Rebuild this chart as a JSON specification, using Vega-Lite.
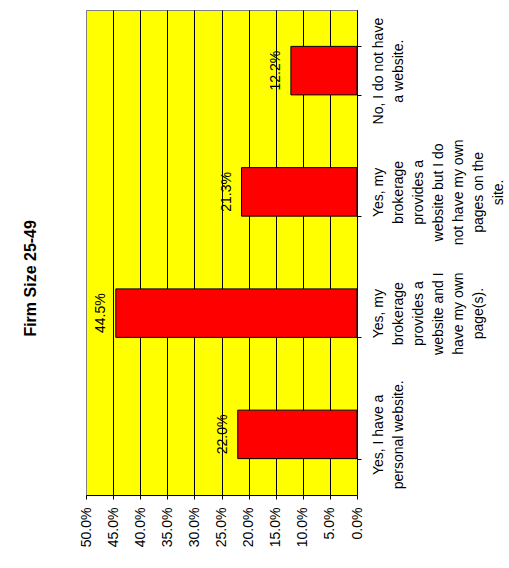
{
  "$schema": "https://vega.github.io/schema/vega-lite/v6.json",
  "width": 271,
  "height": 485,
  "autosize": {"type": "none"},
  "padding": {"left": 86, "top": 10, "right": 152, "bottom": 73},
  "background": "white",
  "title": {
    "text": "Firm Size 25-49",
    "orient": "left",
    "anchor": "middle",
    "frame": "bounds",
    "font": "Liberation Sans",
    "fontSize": 16,
    "fontWeight": "bold",
    "color": "black",
    "offset": 40
  },
  "data": {
    "values": [
      {"response": "Yes, I have a\npersonal website.", "share": 0.22},
      {"response": "Yes, my\nbrokerage\nprovides a\nwebsite and I\nhave my own\npage(s).", "share": 0.445},
      {"response": "Yes, my\nbrokerage\nprovides a\nwebsite but I do\nnot have my own\npages on the\nsite.", "share": 0.213},
      {"response": "No, I do not have\na website.", "share": 0.122}
    ]
  },
  "encoding": {
    "y": {
      "field": "response",
      "type": "nominal",
      "sort": [
        "No, I do not have\na website.",
        "Yes, my\nbrokerage\nprovides a\nwebsite but I do\nnot have my own\npages on the\nsite.",
        "Yes, my\nbrokerage\nprovides a\nwebsite and I\nhave my own\npage(s).",
        "Yes, I have a\npersonal website."
      ],
      "scale": {"paddingInner": 0.6, "paddingOuter": 0.3},
      "axis": {
        "orient": "right",
        "title": null,
        "labelAngle": -90,
        "labelAlign": "center",
        "labelBaseline": "top",
        "labelPadding": 10,
        "labelLineHeight": 20,
        "labelFont": "Liberation Sans",
        "labelFontSize": 14,
        "labelColor": "black",
        "labelLimit": 1000,
        "labelOverlap": false,
        "labelBound": false,
        "labelExpr": "datum.label ? split(datum.label, '\\n') : ''",
        "tickBand": "extent",
        "ticks": true,
        "tickSize": 4,
        "tickColor": "black",
        "domainColor": "black",
        "grid": false
      }
    },
    "x": {
      "field": "share",
      "type": "quantitative",
      "scale": {"domain": [0, 0.5], "reverse": true, "nice": false},
      "axis": {
        "orient": "bottom",
        "title": null,
        "values": [0, 0.05, 0.1, 0.15, 0.2, 0.25, 0.3, 0.35, 0.4, 0.45, 0.5],
        "format": ".1%",
        "labelAngle": -90,
        "labelFont": "Liberation Sans",
        "labelFontSize": 14,
        "labelColor": "black",
        "labelPadding": 8,
        "labelOverlap": false,
        "labelFlush": false,
        "grid": true,
        "gridColor": {"condition": {"test": "datum.value === 0.5", "value": "#808080"}, "value": "black"},
        "gridWidth": 1,
        "tickSize": 4,
        "tickColor": "black",
        "domainColor": "black"
      }
    }
  },
  "layer": [
    {"mark": {"type": "bar", "fill": "#FF0000", "stroke": "black", "strokeWidth": 1}},
    {
      "mark": {"type": "text", "angle": 270, "align": "center", "baseline": "alphabetic", "dy": -11, "font": "Liberation Sans", "fontSize": 14, "color": "black"},
      "encoding": {"text": {"field": "share", "type": "quantitative", "format": ".1%"}}
    }
  ],
  "config": {"view": {"fill": "#FFFF00", "stroke": "#808080", "strokeWidth": 1}}
}
